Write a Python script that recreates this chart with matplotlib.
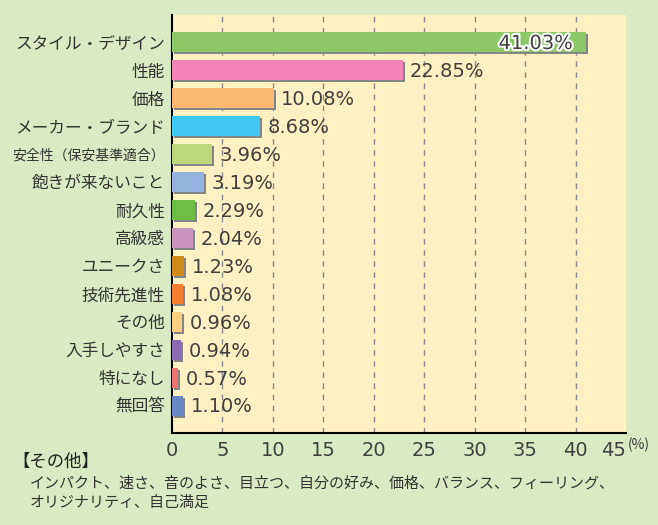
import numpy as np
import matplotlib.pyplot as plt
import matplotlib.transforms as mtransforms
import matplotlib.patheffects as pe

plt.rcParams['font.family'] = ['Noto Sans CJK JP', 'DejaVu Sans']

# data
categories = ['スタイル・デザイン', '性能', '価格', 'メーカー・ブランド', '安全性（保安基準適合）',
              '飽きが来ないこと', '耐久性', '高級感', 'ユニークさ', '技術先進性', 'その他',
              '入手しやすさ', '特になし', '無回答']
values = [41.03, 22.85, 10.08, 8.68, 3.96, 3.19, 2.29, 2.04, 1.23, 1.08, 0.96, 0.94, 0.57, 1.10]
colors = ['#8cc865', '#f285b5', '#fbb871', '#40c8f4', '#bcd87a', '#95b3de', '#6dbe45',
          '#c995bd', '#d08b1c', '#f47d30', '#fdcf80', '#8a6bb0', '#f07470', '#6a86c6']
xticks = [0, 5, 10, 15, 20, 25, 30, 35, 40, 45]
note_title = '【その他】'
note_lines = ['インパクト、速さ、音のよさ、目立つ、自分の好み、価格、バランス、フィーリング、',
              'オリジナリティ、自己満足']

fig = plt.figure(figsize=(6.58, 5.25), dpi=100, facecolor='#d9eac5')
ax = fig.add_axes([172/658, 1-433/525, 454/658, 418/525])
ax.set_facecolor('#fff1c1')

y = np.arange(len(categories))
# shadow
shadow = ax.transData + mtransforms.ScaledTranslation(2/100, -2/100, fig.dpi_scale_trans)
ax.barh(y, values, height=0.72, color='#858585', transform=shadow, zorder=2)
ax.barh(y, values, height=0.72, color=colors, zorder=3)

numfont = dict(fontsize=14, color='#404040', family='DejaVu Sans')
for i, v in enumerate(values):
    if i == 0:
        ax.text(v - 1.3, i + 0.05, f'{v:.2f}%', ha='right', va='center', zorder=5,
                path_effects=[pe.withStroke(linewidth=3, foreground='white')], **numfont)
    else:
        ax.text(v + 0.75, i + 0.05, f'{v:.2f}%', ha='left', va='center', zorder=5, **numfont)

ax.set_xlim(0, 45)
ax.set_ylim(len(categories) - 0.02, -0.97)
ax.set_yticks(y)
ax.set_yticklabels(categories, fontsize=12, color='#333333')
ax.get_yticklabels()[4].set_fontsize(10)
ax.set_xticks(xticks)
ax.set_xticklabels([str(t) for t in xticks], **numfont)
ax.get_xticklabels()[-1].set_horizontalalignment('right')
ax.tick_params(length=0, pad=5)
ax.tick_params(axis='x', pad=6)

for t in xticks[1:-1]:
    ax.axvline(t, color='#8a8a8a', lw=1, linestyle=(0, (4, 4)), zorder=1)

for s in ['top', 'right']:
    ax.spines[s].set_visible(False)
ax.spines['left'].set_linewidth(1.5)
ax.spines['bottom'].set_linewidth(1.5)

fig.text(628/658, 1-445/525, '(%)', fontsize=10, color='#3a3a3a', va='center', ha='left')
fig.text(12/658, 1-462/525, note_title, fontsize=12.5, color='#222222', va='center', ha='left')
fig.text(30/658, 1-483/525, note_lines[0], fontsize=10.8, color='#333333', va='center', ha='left')
fig.text(30/658, 1-503/525, note_lines[1], fontsize=10.8, color='#333333', va='center', ha='left')

fig.savefig('out.png', dpi=100, facecolor=fig.get_facecolor())
